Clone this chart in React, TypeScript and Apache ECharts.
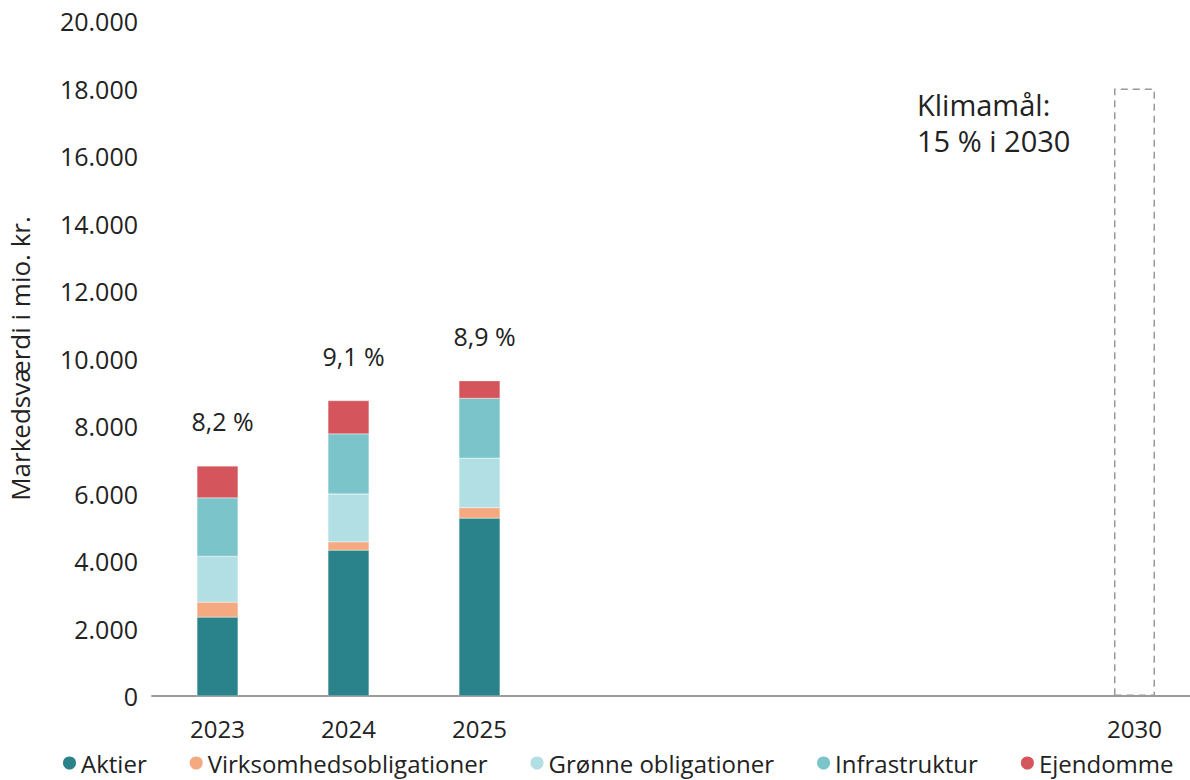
import React, { useEffect, useRef } from "react";
import * as echarts from "echarts";

const years = ["2023", "2024", "2025", "2026", "2027", "2028", "2029", "2030"];
const shownYears = ["2023", "2024", "2025", "2030"];
const aktier = [2340, 4320, 5270, null, null, null, null, null];
const virksomhed = [440, 245, 310, null, null, null, null, null];
const groenne = [1360, 1420, 1470, null, null, null, null, null];
const infra = [1730, 1780, 1770, null, null, null, null, null];
const ejendomme = [945, 985, 520, null, null, null, null, null];
const shareLabels = ["8,2 %", "9,1 %", "8,9 %", "", "", "", "", ""];
const target = [null, null, null, null, null, null, null, 18000];
const targetLabel = "Klimamål:\n15 % i 2030";
const yTicks = [0, 2000, 4000, 6000, 8000, 10000, 12000, 14000, 16000, 18000, 20000];

const FONT = "Open Sans";
const TXT = "#222222";

export default function App() {
  const ref = useRef<HTMLDivElement>(null);
  useEffect(() => {
    if (!ref.current) return;
    const chart = echarts.init(ref.current, null, { renderer: "svg" });
    const barW = 41;
    const mk = (name: string, data: (number | null)[], color: string, extra: any = {}) => ({
      name,
      type: "bar",
      stack: "total",
      data,
      barWidth: barW,
      barGap: "-100%",
      itemStyle: { color, borderColor: "#ffffff", borderWidth: 0.3 },
      ...extra,
    });
    chart.setOption({
      animation: false,
      textStyle: { fontFamily: FONT, color: TXT },
      grid: { left: 152, right: -10, top: 21, bottom: 84, outerBoundsMode: "none", containLabel: false },
      legend: {
        bottom: 5,
        left: 61,
        padding: 0,
        icon: "circle",
        itemWidth: 15,
        itemHeight: 15,
        itemGap: 41,
        data: ["Aktier", "Virksomhedsobligationer", "Grønne obligationer", "Infrastruktur", "Ejendomme"],
        textStyle: { fontFamily: FONT, fontSize: 24, color: TXT, padding: [0, 0, 0, -1] },
      },
      xAxis: {
        type: "category",
        data: years,
        axisLine: { lineStyle: { color: "#999999", width: 2 } },
        axisTick: { show: false },
        axisLabel: {
          interval: 0,
          margin: 20,
          fontSize: 24,
          color: TXT,
          fontFamily: FONT,
          formatter: (v: string) => (shownYears.includes(v) ? v : ""),
        },
      },
      yAxis: {
        type: "value",
        min: 0,
        max: 20000,
        interval: 2000,
        name: "Markedsværdi i mio. kr.",
        nameLocation: "middle",
        nameGap: 119,
        nameTextStyle: { fontSize: 26, color: TXT, fontFamily: FONT },
        splitLine: { show: false },
        axisLine: { show: false },
        axisTick: { show: false },
        axisLabel: {
          margin: 14,
          fontSize: 25,
          color: TXT,
          fontFamily: FONT,
          formatter: (v: number) => (yTicks.includes(v) ? v.toLocaleString("de-DE") : ""),
        },
      },
      series: [
        mk("Aktier", aktier, "#2a838a"),
        mk("Virksomhedsobligationer", virksomhed, "#f5a981"),
        mk("Grønne obligationer", groenne, "#b1dfe4"),
        mk("Infrastruktur", infra, "#7bc5ca"),
        mk("Ejendomme", ejendomme, "#d4555b", {
          label: {
            show: true,
            position: "top",
            distance: 32,
            fontSize: 25,
            color: TXT,
            fontFamily: FONT,
            offset: [5, 0],
            formatter: (p: any) => shareLabels[p.dataIndex],
          },
        }),
        {
          name: "Mål",
          type: "bar",
          stack: "target",
          data: target,
          barWidth: barW,
          barGap: "-100%",
          itemStyle: {
            color: "rgba(0,0,0,0)",
            borderColor: "#999999",
            borderWidth: 1.5,
            borderType: [7, 5],
          },
          label: {
            show: true,
            position: [-197, -2],
            align: "left",
            verticalAlign: "top",
            fontSize: 29,
            lineHeight: 36,
            color: TXT,
            fontFamily: FONT,
            formatter: () => targetLabel,
          },
        },
      ],
    });
    return () => chart.dispose();
  }, []);
  return <div ref={ref} style={{ width: 1190, height: 780, position: "absolute", left: 0, top: 0 }} />;
}
